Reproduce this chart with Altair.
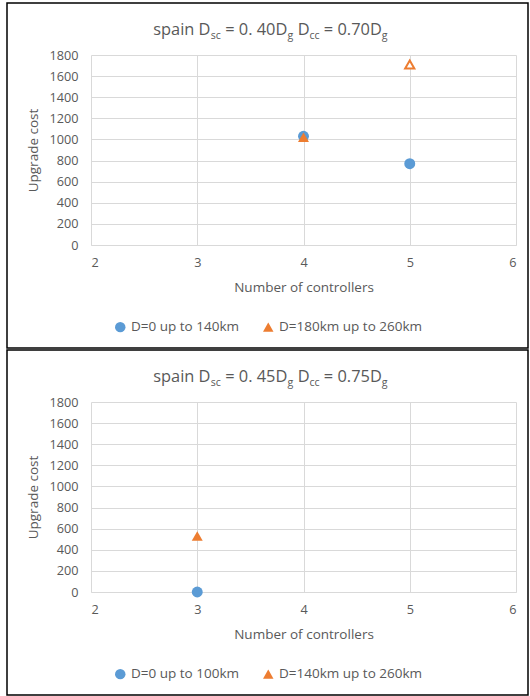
import altair as alt
import pandas as pd

BLUE = "#5B9BD5"
ORANGE = "#ED7D31"
TXT = "#595959"
GRID = "#D9D9D9"
FONT = "Open Sans"

# ---------------- data ----------------
x_ticks = [2, 3, 4, 5, 6]
y_ticks = [0, 200, 400, 600, 800, 1000, 1200, 1400, 1600, 1800]

# panel 1
p1_title = [("spain D", False), ("sc", True), (" = 0. 40D", False), ("g", True),
            (" D", False), ("cc", True), (" = 0.70D", False), ("g", True)]
p1_series = ["D=0 up to 140km", "D=180km up to 260km"]
p1_s1_x = [4, 5]
p1_s1_y = [1030, 770]
p1_s2_x = [4, 5]
p1_s2_y = [1020, 1710]
p1_s2_hollow = [False, True]

# panel 2
p2_title = [("spain D", False), ("sc", True), (" = 0. 45D", False), ("g", True),
            (" D", False), ("cc", True), (" = 0.75D", False), ("g", True)]
p2_series = ["D=0 up to 100km", "D=140km up to 260km"]
p2_s1_x = [3]
p2_s1_y = [0]
p2_s2_x = [3]
p2_s2_y = [530]
p2_s2_hollow = [False]

# ---------------- layout ----------------
W, H = 425, 190
MAIN_FS, SUB_FS = 16.4, 10.6
CW = {" ": 0.26, "=": 0.572, ".": 0.266, "D": 0.722, "s": 0.487, "p": 0.613,
      "a": 0.556, "i": 0.253, "n": 0.614, "c": 0.476, "g": 0.561}


def text_w(s, fs):
    return sum(CW.get(ch, 0.572) for ch in s) * fs


def title_layers(parts, cx, base_y):
    total = sum(text_w(t, SUB_FS if sub else MAIN_FS) for t, sub in parts)
    x = cx - total / 2
    layers = []
    for t, sub in parts:
        fs = SUB_FS if sub else MAIN_FS
        y = base_y + (4 if sub else 0)
        stripped = t.lstrip(" ")
        lead = text_w(t[: len(t) - len(stripped)], fs)
        layers.append(
            alt.Chart(pd.DataFrame({"a": [0]}))
            .mark_text(text=stripped, font=FONT, fontSize=fs, color=TXT, align="left",
                       baseline="alphabetic")
            .encode(x=alt.value(x + lead), y=alt.value(y))
        )
        x += text_w(t, fs)
    return layers


def panel(parts, series, s1x, s1y, s2x, s2y, s2h):
    rows = []
    for a, b in zip(s1x, s1y):
        rows.append({"n": a, "cost": b, "series": series[0], "hollow": False})
    for a, b, h in zip(s2x, s2y, s2h):
        rows.append({"n": a, "cost": b, "series": series[1], "hollow": h})
    df = pd.DataFrame(rows)

    xenc = alt.X("n:Q", scale=alt.Scale(domain=[2, 6], nice=False, zero=False),
                 axis=alt.Axis(values=x_ticks, title="Number of controllers",
                               format="d", titleY=42, titleBaseline="middle"))
    yenc = alt.Y("cost:Q", scale=alt.Scale(domain=[0, 1800], nice=False),
                 axis=alt.Axis(values=y_ticks, tickCount=10, title="Upgrade cost", format="d",
                               titleX=-57.5, titleY=H / 2, titleAngle=270,
                               titleBaseline="middle", titleAlign="center"))
    leg = alt.Legend(title=None, orient="none", legendX=22.5, legendY=265,
                     direction="horizontal", padding=0, symbolSize=110,
                     symbolStrokeWidth=0, labelFont=FONT, labelFontSize=13.5,
                     labelColor=TXT, labelOffset=4, columnPadding=22)

    filled = (
        alt.Chart(df)
        .transform_filter("!datum.hollow")
        .mark_point(filled=True, opacity=1, size=120)
        .encode(
            x=xenc, y=yenc,
            color=alt.Color("series:N", scale=alt.Scale(domain=series, range=[BLUE, ORANGE]), legend=leg),
            shape=alt.Shape("series:N", scale=alt.Scale(domain=series, range=["circle", "triangle-up"]), legend=leg),
        )
    )
    hollow = (
        alt.Chart(df)
        .transform_filter("datum.hollow")
        .mark_point(shape="triangle-up", filled=True, fill="white", stroke=ORANGE,
                    strokeWidth=2, size=85, opacity=1)
        .encode(x=xenc, y=yenc)
    )
    border = (
        alt.Chart(pd.DataFrame({"a": [0]}))
        .mark_rect(fill="white", fillOpacity=0, stroke="black", strokeWidth=1.5)
        .encode(x=alt.value(-84), x2=alt.value(437), y=alt.value(-52), y2=alt.value(293))
    )
    return alt.layer(border, *title_layers(parts, 179.5, -20), filled, hollow).properties(
        width=W, height=H)


top = panel(p1_title, p1_series, p1_s1_x, p1_s1_y, p1_s2_x, p1_s2_y, p1_s2_hollow)
bottom = panel(p2_title, p2_series, p2_s1_x, p2_s1_y, p2_s2_x, p2_s2_y, p2_s2_hollow)

chart = (
    alt.vconcat(top, bottom, spacing=0)
    .resolve_scale(color="independent", shape="independent", x="independent", y="independent")
    .resolve_legend(color="independent", shape="independent")
    .properties(padding={"left": 6, "top": 2, "right": 0, "bottom": 0}, background="white")
    .configure_view(stroke=None)
    .configure_axis(grid=True, gridColor=GRID, gridWidth=1, ticks=False, tickSize=0,
                    labelFont=FONT, labelFontSize=12.7, labelColor=TXT, labelOverlap=False,
                    titleFont=FONT, titleFontSize=13.5, titleColor=TXT,
                    titleFontWeight="normal")
    .configure_axisX(domain=True, domainColor=GRID, domainWidth=1.2, labelPadding=11)
    .configure_axisY(domain=False, labelPadding=13)
)

chart.save("out.html", embed_options={"renderer": "svg", "actions": False})
